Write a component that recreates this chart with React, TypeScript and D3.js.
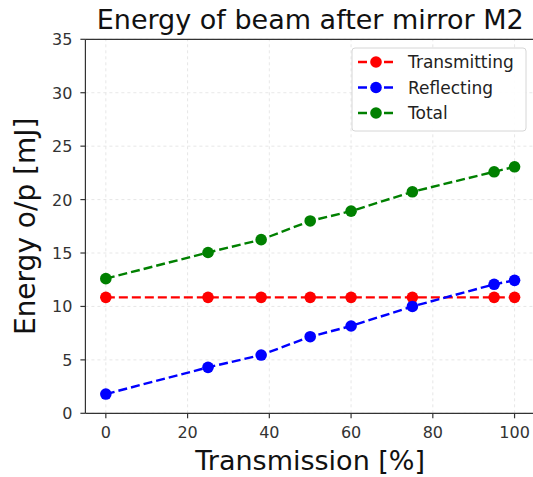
import React from "react";
import * as d3 from "d3";

const transmission = [0, 25, 38, 50, 60, 75, 95, 100];
const transmitting = [10.85, 10.85, 10.85, 10.85, 10.85, 10.85, 10.85, 10.85];
const reflecting = [1.8, 4.3, 5.45, 7.17, 8.17, 10.0, 12.07, 12.44];
const total = [12.6, 15.05, 16.25, 18.0, 18.92, 20.73, 22.6, 23.07];
const xTicks = [0, 20, 40, 60, 80, 100];
const yTicks = [0, 5, 10, 15, 20, 25, 30, 35];
const seriesNames = ["Transmitting", "Reflecting", "Total"];
const seriesColors = ["#ff0000", "#0000ff", "#008000"];

const W = 533;
const H = 477;
const FONT = "DejaVu Sans, sans-serif";

export default function App() {
  const x = d3.scaleLinear().domain([-5, 105]).range([85.4, 535]);
  const y = d3.scaleLinear().domain([0, 35]).range([413.3, 39.3]);
  const series = [transmitting, reflecting, total];
  const line = d3
    .line<[number, number]>()
    .x((d) => x(d[0]))
    .y((d) => y(d[1]));
  const cx = (x(-5) + x(105)) / 2;

  return (
    <svg
      width={W}
      height={H}
      style={{ position: "absolute", left: 0, top: 0, background: "#fff" }}
      fontFamily={FONT}
    >
      <rect x={0} y={0} width={W} height={H} fill="#fff" />
      {/* grid */}
      {xTicks.map((t) => (
        <line key={"gx" + t} x1={x(t)} x2={x(t)} y1={y(0)} y2={y(35)} stroke="#e4e4e4" strokeWidth={0.9} strokeDasharray="3,3" />
      ))}
      {yTicks.map((t) => (
        <line key={"gy" + t} x1={x(-5)} x2={x(105)} y1={y(t)} y2={y(t)} stroke="#e4e4e4" strokeWidth={0.9} strokeDasharray="3,3" />
      ))}
      {/* series */}
      {series.map((s, i) => (
        <g key={"s" + i}>
          <path
            d={line(transmission.map((t, j) => [t, s[j]] as [number, number])) || ""}
            fill="none"
            stroke={seriesColors[i]}
            strokeWidth={2.4}
            strokeDasharray="9,4"
          />
          {transmission.map((t, j) => (
            <circle key={j} cx={x(t)} cy={y(s[j])} r={5.8} fill={seriesColors[i]} />
          ))}
        </g>
      ))}
      {/* spines */}
      <line x1={x(-5)} x2={x(-5)} y1={y(0)} y2={y(35)} stroke="#333" strokeWidth={1.2} />
      <line x1={x(-5)} x2={x(105)} y1={y(0)} y2={y(0)} stroke="#333" strokeWidth={1.2} />
      <line x1={x(-5)} x2={x(105)} y1={y(35)} y2={y(35)} stroke="#333" strokeWidth={1.2} />
      <line x1={x(105)} x2={x(105)} y1={y(0)} y2={y(35)} stroke="#333" strokeWidth={1.2} />
      {/* ticks */}
      {xTicks.map((t) => (
        <g key={"tx" + t}>
          <line x1={x(t)} x2={x(t)} y1={y(0)} y2={y(0) + 5} stroke="#333" strokeWidth={1.2} />
          <text x={x(t)} y={y(0) + 25} textAnchor="middle" fontSize={16} fill="#333">
            {t}
          </text>
        </g>
      ))}
      {yTicks.map((t) => (
        <g key={"ty" + t}>
          <line x1={x(-5) - 5} x2={x(-5)} y1={y(t)} y2={y(t)} stroke="#333" strokeWidth={1.2} />
          <text x={x(-5) - 13} y={y(t) + 6} textAnchor="end" fontSize={16} fill="#333">
            {t}
          </text>
        </g>
      ))}
      {/* labels */}
      <text x={cx} y={29} textAnchor="middle" fontSize={27} fill="#111">
        Energy of beam after mirror M2
      </text>
      <text x={cx} y={470} textAnchor="middle" fontSize={27} fill="#111">
        Transmission [%]
      </text>
      <text
        transform={`translate(35, ${y(17.5)}) rotate(-90)`}
        textAnchor="middle"
        fontSize={28}
        fill="#111"
      >
        Energy o/p [mJ]
      </text>
      {/* legend */}
      <g>
        <rect x={352} y={48} width={174} height={83} rx={3} fill="#fff" fillOpacity={0.9} stroke="#d6d6d6" />
        {seriesNames.map((n, i) => {
          const ly = 62 + i * 25.5;
          return (
            <g key={n}>
              <line x1={358} x2={394} y1={ly} y2={ly} stroke={seriesColors[i]} strokeWidth={2.4} strokeDasharray="9,4" />
              <circle cx={376} cy={ly} r={5.8} fill={seriesColors[i]} />
              <text x={408} y={ly + 6} fontSize={17} fill="#222">
                {n}
              </text>
            </g>
          );
        })}
      </g>
    </svg>
  );
}
